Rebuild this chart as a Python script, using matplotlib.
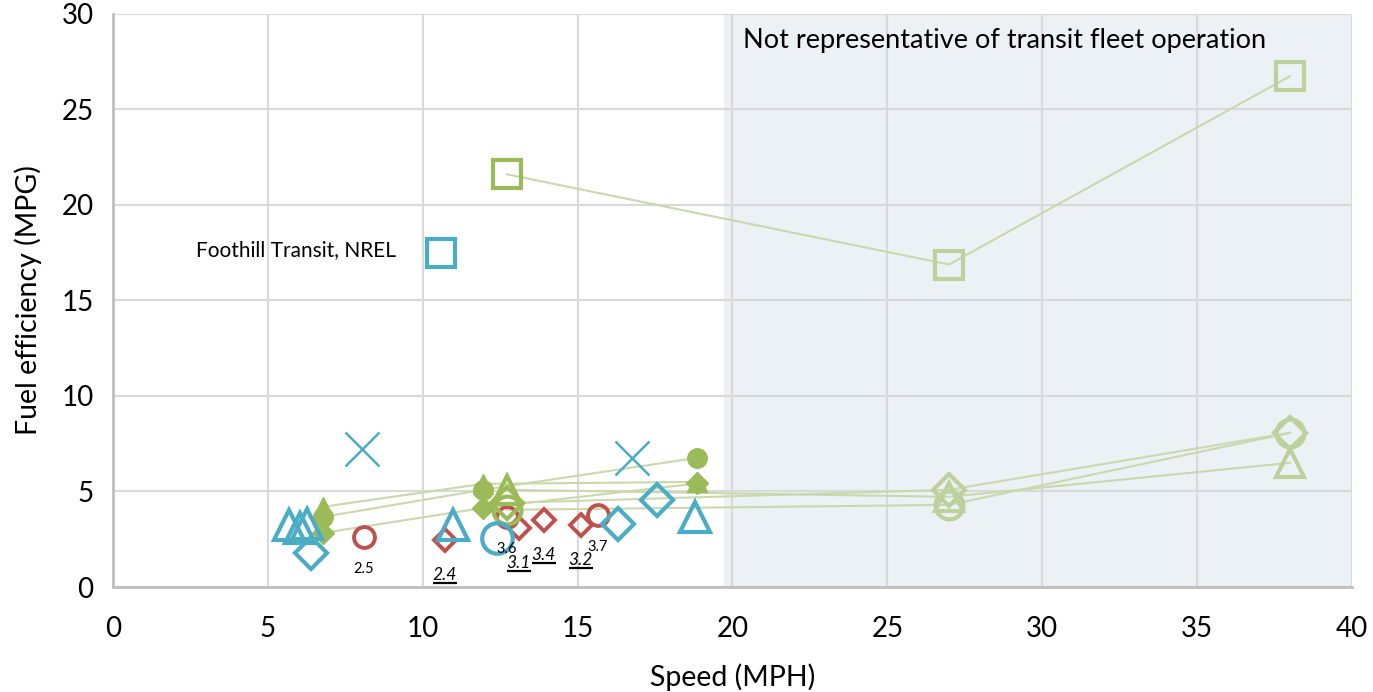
import matplotlib
matplotlib.use("Agg")
import matplotlib.pyplot as plt

plt.rcParams['font.family'] = ['Lato', 'DejaVu Sans']

# ---- data ----
# Blue (measured) markers
blue_tri_x = [5.68, 6.04, 6.26, 10.98, 18.79]
blue_tri_y = [3.27, 3.09, 3.30, 3.25, 3.67]
blue_dia_x = [6.39, 16.30, 17.56]
blue_dia_y = [1.78, 3.30, 4.56]
blue_circ_x = [12.40]
blue_circ_y = [2.57]
blue_x_x = [8.04, 16.76]
blue_x_y = [7.24, 6.76]
blue_sq_x = [10.59]
blue_sq_y = [17.46]

# Red markers with labels
red_circ_x = [8.10, 12.72, 15.66]
red_circ_y = [2.62, 3.67, 3.78]
red_circ_lbl = ["2.5", "3.6", "3.7"]
red_dia_x = [10.72, 13.10, 13.90, 15.10]
red_dia_y = [2.46, 3.09, 3.51, 3.25]
red_dia_lbl = ["2.4", "3.1", "3.4", "3.2"]

# Green filled series (speeds 6.8, 12.0, 18.8)
gf_x = [6.78, 11.95, 18.85]
gf_tri_y = [4.20, 5.40, 5.50]
gf_circ_y = [3.67, 5.09, 6.76]
gf_dia_y = [2.83, 4.14, 5.42]

# Green hollow series (speeds 12.7, 27, 38)
gh_x = [12.72, 26.99, 38.0]
gh_sq_y = [21.6, 16.88, 26.74]
gh_tri_y = [5.09, 4.72, 6.50]
gh_dia_y = [4.40, 5.09, 8.07]
gh_circ_y = [4.04, 4.30, 8.07]

xticks = [0, 5, 10, 15, 20, 25, 30, 35, 40]
yticks = [0, 5, 10, 15, 20, 25, 30]

BLUE = '#4BACC6'
RED = '#C0504D'
GREEN = '#9BBB59'
GREEN_FADE = '#BDD19C'
LINE_G = '#C9D9AC'

fig = plt.figure(figsize=(13.73, 6.92), dpi=100)
ax = fig.add_axes([0.0823, 0.1517, 0.9024, 0.8283])
ax.set_xlim(0, 40)
ax.set_ylim(0, 30)

# shaded region
ax.axvspan(19.72, 40, color='#ECF1F5', zorder=0, lw=0)
ax.set_axisbelow(True)
ax.grid(True, color='#D9D9D9', lw=1.5)
ax.set_xticks(xticks)
ax.set_yticks(yticks)
ax.tick_params(axis='both', length=0, labelsize=20, colors='black')
ax.tick_params(axis='x', pad=21)
ax.tick_params(axis='y', pad=14)
for s in ['top', 'right']:
    ax.spines[s].set_visible(False)
for s in ['left', 'bottom']:
    ax.spines[s].set_color('#BFBFBF')
    ax.spines[s].set_linewidth(2)

ax.set_xlabel('Speed (MPH)', fontsize=20.5, labelpad=15)
ax.set_ylabel('Fuel efficiency (MPG)', fontsize=20.5, labelpad=14)

# green lines
for ys in (gf_tri_y, gf_circ_y, gf_dia_y):
    ax.plot(gf_x, ys, color=LINE_G, lw=1.5, zorder=2)
for ys in (gh_sq_y, gh_tri_y, gh_dia_y, gh_circ_y):
    ax.plot(gh_x, ys, color=LINE_G, lw=1.5, zorder=2)

# green hollow markers: first point solid, the rest faded
hollow_specs = [(gh_sq_y, 's'), (gh_tri_y, '^'), (gh_dia_y, 'D'), (gh_circ_y, 'o')]
for ys, m in hollow_specs:
    ms = 20 if m != 'D' else 16
    ax.plot(gh_x[:1], ys[:1], ls='none', marker=m, ms=ms, mfc='none', mec=GREEN, mew=3, zorder=4)
    ax.plot(gh_x[1:], ys[1:], ls='none', marker=m, ms=ms, mfc='none', mec=GREEN_FADE, mew=3, zorder=4)

# green filled markers
ax.plot(gf_x, gf_dia_y, ls='none', marker='D', ms=11, color=GREEN, mec=GREEN, zorder=5)
ax.plot(gf_x, gf_circ_y, ls='none', marker='o', ms=14, color=GREEN, mec=GREEN, zorder=5)
ax.plot(gf_x, gf_tri_y, ls='none', marker='^', ms=14, color=GREEN, mec=GREEN, zorder=5)

# red markers
ax.plot(red_circ_x, red_circ_y, ls='none', marker='o', ms=15, mfc='none', mec=RED, mew=2.8, zorder=3)
ax.plot(red_dia_x, red_dia_y, ls='none', marker='D', ms=11, mfc='none', mec=RED, mew=2.8, zorder=3)

# blue markers
ax.plot(blue_tri_x, blue_tri_y, ls='none', marker='^', ms=22, mfc='none', mec=BLUE, mew=3, zorder=6)
ax.plot(blue_dia_x, blue_dia_y, ls='none', marker='D', ms=16, mfc='none', mec=BLUE, mew=3, zorder=6)
ax.plot(blue_circ_x, blue_circ_y, ls='none', marker='o', ms=22, mfc='none', mec=BLUE, mew=3, zorder=6)
ax.plot(blue_x_x, blue_x_y, ls='none', marker='x', ms=24, mec=BLUE, mew=1.8, zorder=6)
ax.plot(blue_sq_x, blue_sq_y, ls='none', marker='s', ms=20, mfc='none', mec=BLUE, mew=3, zorder=6)

# labels for red points
for x, y, t in zip(red_circ_x, red_circ_y, red_circ_lbl):
    ax.annotate(t, (x, y), xytext=(0, -23), textcoords='offset points', ha='center', va='center',
                fontsize=10.5, zorder=7)
for x, y, t in zip(red_dia_x, red_dia_y, red_dia_lbl):
    ax.annotate(t, (x, y), xytext=(0, -25), textcoords='offset points', ha='center', va='center',
                fontsize=12.5, style='italic', zorder=7)

# underline under italic labels
fig.canvas.draw()
inv = ax.transData.inverted()
for x, y, t in zip(red_dia_x, red_dia_y, red_dia_lbl):
    px, py = ax.transData.transform((x, y))
    half = 12
    yline = py - 25 * 100 / 72 - 8
    p0 = inv.transform((px - half, yline))
    p1 = inv.transform((px + half, yline))
    ax.plot([p0[0], p1[0]], [p0[1], p1[1]], color='black', lw=1.6, zorder=7, solid_capstyle='butt')

ax.text(9.14, 17.65, 'Foothill Transit, NREL', fontsize=15, ha='right', va='center')
ax.text(20.35, 28.6, 'Not representative of transit fleet operation', fontsize=19.5,
        ha='left', va='center')

fig.savefig('out.png', dpi=100)
